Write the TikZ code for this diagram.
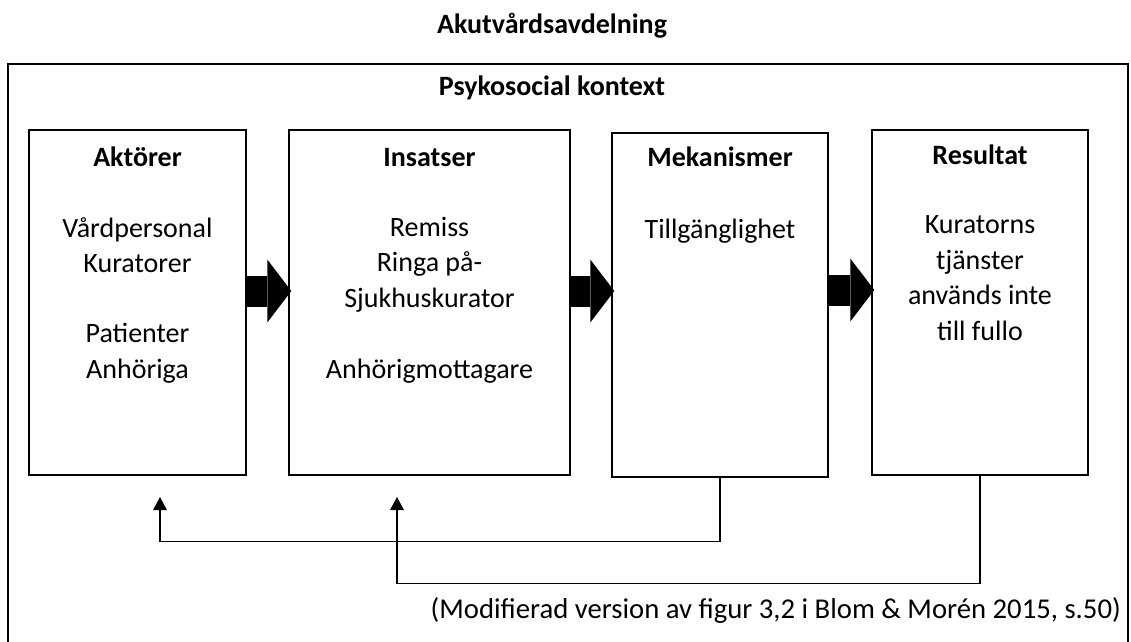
\documentclass[tikz,border=0pt]{standalone}
\usepackage{fontspec}
\setmainfont{Carlito}
\usetikzlibrary{arrows.meta}

\begin{document}
\begin{tikzpicture}[x=1pt, y=-1pt,
    box/.style={draw, line width=1.4pt, minimum height=345pt, inner sep=0pt},
    title/.style={font=\fontsize{28}{34}\selectfont\bfseries, anchor=base, inner sep=0pt},
    body/.style={font=\fontsize{28}{35.5}\selectfont, align=center, anchor=base, inner sep=0pt},
    flow/.style={line width=31pt, shorten >=-3pt, -{Triangle[length=24pt, width=63pt, line width=0pt]}},
    back/.style={line width=1.4pt, -{Triangle[length=13pt, width=14pt, line width=0pt]}}]
  \useasboundingbox (0,0) rectangle (1131,641);
  \clip (0,0) rectangle (1131,641);

  % outer frame, its bottom edge lies below the page
  \draw[line width=1.4pt] (8,64) rectangle (1128,700);
  \node[title] (unit) at (552,33) {Akutvårdsavdelning};
  \node[title] (ctx) at (552,95) {Psykosocial kontext};

  \node[box, minimum width=217pt] (akt) at (137.5,302.5) {};
  \node[box, minimum width=281pt] (ins) at (429.5,302.5) {};
  \node[box, minimum width=216pt, minimum height=344pt] (mek) at (720,305) {};
  \node[box, minimum width=216pt] (res) at (980,302.5) {};

  \node[title] (akth) at ([yshift=-37pt]akt.north) {Aktörer};
  \node[title] (insh) at ([yshift=-37pt]ins.north) {Insatser};
  \node[title] (mekh) at ([yshift=-34pt]mek.north) {Mekanismer};
  \node[title] (resh) at ([yshift=-35pt]res.north) {Resultat};

  % base of a node with several lines is its last line
  \node[body] (aktb) at (137.5,378) {Vårdpersonal\\Kuratorer\\[34.5pt]Patienter\\Anhöriga};
  \node[body] (insb) at (429.5,378) {Remiss\\Ringa på-\\Sjukhuskurator\\[35.5pt]Anhörigmottagare};
  \node[body] (mekb) at (720,238) {Tillgänglighet};
  \node[body] (resb) at (980,340) {Kuratorns\\tjänster\\används inte\\till fullo};

  \draw[flow] (akt.east |- 0,291) -- (ins.west |- 0,291);
  \draw[flow] ([xshift=-2pt]ins.east |- 0,291) -- (mek.west |- 0,291);
  \draw[flow] (mek.east |- 0,290) -- (res.west |- 0,290);

  \coordinate (aktin) at (160,497);
  \coordinate (insin) at (397,497);
  \draw[back] (mek.south) -- ++(0,64) -| (aktin);
  \draw[back] (res.south) -- ++(0,108) -| (insin);

  \node[font=\fontsize{28.7}{34}\selectfont, anchor=base east, inner sep=0pt] (src) at (1121,618)
    {(Modifierad version av figur 3,2 i Blom \& Morén 2015, s.50)};
\end{tikzpicture}
\end{document}
